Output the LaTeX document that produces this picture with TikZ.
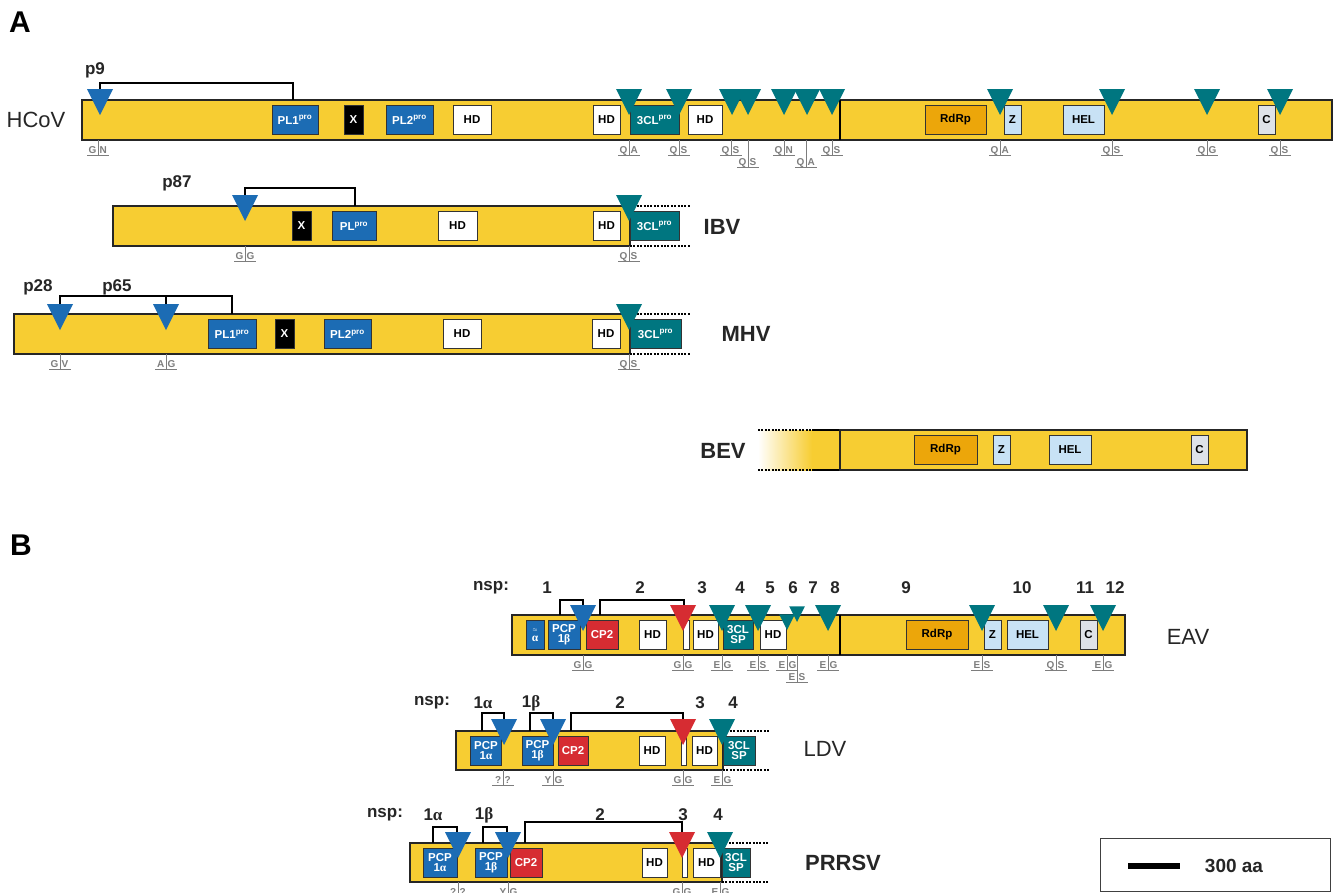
\documentclass[tikz,border=0pt]{standalone}
\usepackage{fontspec}
\setmainfont{Liberation Sans}
\newfontfamily\grk{Liberation Serif}
\usepackage{xcolor}
\usepackage{amsmath}

\definecolor{cyellow}{RGB}{247,205,50}
\definecolor{cblue}{RGB}{28,108,180}
\definecolor{cteal}{RGB}{0,118,128}
\definecolor{cred}{RGB}{214,44,50}
\definecolor{corange}{RGB}{236,166,10}
\definecolor{clblue}{RGB}{200,226,245}
\definecolor{cgrey}{RGB}{222,226,232}
\definecolor{csite}{RGB}{125,125,125}

% cleavage site: x, bar bottom, left, right, depth
\newcommand{\site}[5]{%
  \draw[siteline] (#1,#2) -- ++(0,#5+1);
  \draw[siteline] (#1-11,#2+#5) -- ++(22,0);
  \node[sitetxt, anchor=base east] (s#1-#2l) at (#1-1.5,#2+#5-1.5) {#3};
  \node[sitetxt, anchor=base west] (s#1-#2r) at (#1+1.5,#2+#5-1.5) {#4};
}

\begin{document}
\begin{tikzpicture}[x=1pt, y=-1pt,
    bar/.style={draw=black!85, line width=1.6pt, fill=cyellow},
    dom/.style={draw=black!80, line width=0.9pt, minimum height=29, inner sep=0pt,
      align=center, font=\bfseries\fontsize{11.5}{10}\selectfont},
    hd/.style={dom, fill=white},
    pl/.style={dom, fill=cblue, text=white},
    tcl/.style={dom, fill=cteal, text=white},
    cp/.style={dom, fill=cred, text=white},
    xdom/.style={dom, fill=black, text=white},
    rdrp/.style={dom, fill=corange},
    lb/.style={dom, fill=clblue},
    cdom/.style={dom, fill=cgrey},
    bracket/.style={line width=1.3pt},
    dots/.style={line width=1.6pt, dash pattern=on 2pt off 1.4pt},
    siteline/.style={csite, line width=0.7pt},
    sitetxt/.style={text=csite, inner sep=0pt, font=\bfseries\fontsize{10}{10}\selectfont},
    vlabel/.style={text=black!85, font=\fontsize{22}{22}\selectfont},
    vlabelb/.style={text=black!85, font=\bfseries\fontsize{22}{22}\selectfont},
    plabel/.style={text=black!85, font=\bfseries\fontsize{17}{17}\selectfont},
    panel/.style={font=\bfseries\fontsize{30}{30}\selectfont},
    cut/.pic={\path[pic actions] (-13,-26) -- (13,-26) -- (0,0) -- cycle;}]
  \useasboundingbox (0,0) rectangle (1336,892);
  % Panel letters
  \node[panel] (A) at (20,22) {A};
  \node[panel] (B) at (21,545) {B};

  % HCoV
  \node[vlabel] (hcov) at (36,120) {HCoV};
  \draw[bar] (82,100) rectangle (1332,140);
  \draw[line width=1.6pt] (840,100) -- (840,140);
  \node[pl, minimum width=46] (hpl1) at (295,120) {PL1\textsuperscript{pro}};
  \node[xdom, minimum width=19] (hx) at (353.5,120) {X};
  \node[pl, minimum width=47] (hpl2) at (409.5,120) {PL2\textsuperscript{pro}};
  \node[hd, minimum width=38] (hhd1) at (472,120) {HD};
  \node[hd, minimum width=27] (hhd2) at (606.5,120) {HD};
  \node[tcl, minimum width=49] (h3cl) at (654.5,120) {3CL\textsuperscript{pro}};
  \node[hd, minimum width=34] (hhd3) at (705,120) {HD};
  \node[rdrp, minimum width=61] (hrdrp) at (955.5,120) {RdRp};
  \node[lb, minimum width=17] (hz) at (1012.5,120) {Z};
  \node[lb, minimum width=41] (hhel) at (1083.5,120) {HEL};
  \node[cdom, minimum width=17] (hc) at (1266.5,120) {C};
  \node[plabel] (p9) at (95,70) {p9};
  \draw[bracket] (100,89) |- (293,83) -- (293,100);
  \pic[fill=cblue] at (100,115) {cut};
  \foreach \x in {629,679,732,748,784,807,832,1000,1112,1207,1280}
    \pic[fill=cteal] at (\x,115) {cut};
  \foreach \x/\l/\r/\d in {98/G/N/15, 629/Q/A/15, 679/Q/S/15, 731/Q/S/15, 748/Q/S/27,
      784/Q/N/15, 806/Q/A/27, 832/Q/S/15, 1000/Q/A/15, 1112/Q/S/15, 1207/Q/G/15, 1280/Q/S/15}
    \site{\x}{140}{\l}{\r}{\d};

  % IBV
  \node[vlabelb] (ibv) at (722,227) {IBV};
  \draw[bar] (113,206) rectangle (630,246);
  \draw[dots] (630,206) -- (690,206);
  \draw[dots] (630,246) -- (690,246);
  \node[xdom, minimum width=19] (ix) at (301.5,226) {X};
  \node[pl, minimum width=44] (ipl) at (354,226) {PL\textsuperscript{pro}};
  \node[hd, minimum width=39] (ihd1) at (457.5,226) {HD};
  \node[hd, minimum width=27] (ihd2) at (606.5,226) {HD};
  \node[tcl, minimum width=49] (i3cl) at (654.5,226) {3CL\textsuperscript{pro}};
  \node[plabel] (p87) at (177,183) {p87};
  \draw[bracket] (245,195) |- (355,188) -- (355,206);
  \pic[fill=cblue] at (245,221) {cut};
  \pic[fill=cteal] at (629,221) {cut};
  \site{245}{246}{G}{G}{15}
  \site{629}{246}{Q}{S}{15}

  % MHV
  \node[vlabelb] (mhv) at (746,334) {MHV};
  \draw[bar] (14,314) rectangle (630,354);
  \draw[dots] (630,314) -- (690,314);
  \draw[dots] (630,354) -- (690,354);
  \node[pl, minimum width=48] (mpl1) at (232,334) {PL1\textsuperscript{pro}};
  \node[xdom, minimum width=19] (mx) at (284.5,334) {X};
  \node[pl, minimum width=47] (mpl2) at (347.5,334) {PL2\textsuperscript{pro}};
  \node[hd, minimum width=38] (mhd1) at (462,334) {HD};
  \node[hd, minimum width=28] (mhd2) at (606,334) {HD};
  \node[tcl, minimum width=51] (m3cl) at (655.5,334) {3CL\textsuperscript{pro}};
  \node[plabel] (p28) at (38,287) {p28};
  \node[plabel] (p65) at (117,287) {p65};
  \draw[bracket] (60,304) |- (232,296) -- (232,314);
  \draw[bracket] (166,304) -- (166,296);
  \pic[fill=cblue] at (60,330) {cut};
  \pic[fill=cblue] at (166,330) {cut};
  \pic[fill=cteal] at (629,330) {cut};
  \site{60}{354}{G}{V}{15}
  \site{166}{354}{A}{G}{15}
  \site{629}{354}{Q}{S}{15}

  % BEV
  \node[vlabelb] (bev) at (723,451) {BEV};
  \shade[left color=white, right color=cyellow] (758,430) rectangle (812,470);
  \fill[cyellow] (812,430) rectangle (840,470);
  \draw[dots] (758,430) -- (812,430);
  \draw[dots] (758,470) -- (812,470);
  \draw[line width=1.6pt] (812,430) -- (840,430);
  \draw[line width=1.6pt] (812,470) -- (840,470);
  \draw[bar] (840,430) rectangle (1247,470);
  \node[rdrp, minimum width=63] (brdrp) at (945.5,450) {RdRp};
  \node[lb, minimum width=17] (bz) at (1001.5,450) {Z};
  \node[lb, minimum width=42] (bhel) at (1070,450) {HEL};
  \node[cdom, minimum width=17] (bc) at (1199.5,450) {C};

  % EAV
  \node[vlabel] (eav) at (1188,637) {EAV};
  \node[plabel] (ensp) at (491,588) {nsp:};
  \foreach \x/\n in {547/1, 640/2, 702/3, 740/4, 770/5, 793/6, 813/7, 835/8,
      906/9, 1022/10, 1085/11, 1115/12}
    \node[plabel] (e\n) at (\x,588) {\n};
  \draw[bar] (512,615) rectangle (1125,655);
  \draw[line width=1.6pt] (840,615) -- (840,655);
  \node[pl, minimum width=18] (ea) at (535,635) {{\tiny$\approx$}\\{\grk α}};
  \node[pl, minimum width=32] (epcp) at (564,635) {PCP\\1{\grk β}};
  \node[cp, minimum width=32] (ecp2) at (602,635) {CP2};
  \node[hd, minimum width=27] (ehd1) at (652.5,635) {HD};
  \node[hd, minimum width=6] (enar) at (686,635) {};
  \node[hd, minimum width=25] (ehd2) at (705.5,635) {HD};
  \node[tcl, minimum width=30] (e3cl) at (738,635) {3CL\\SP};
  \node[hd, minimum width=26] (ehd3) at (773,635) {HD};
  \node[rdrp, minimum width=62] (erdrp) at (937,635) {RdRp};
  \node[lb, minimum width=17] (ez) at (992.5,635) {Z};
  \node[lb, minimum width=41] (ehel) at (1027.5,635) {HEL};
  \node[cdom, minimum width=17] (ec) at (1088.5,635) {C};
  \draw[bracket] (560,615) |- (583,600) -- (583,605);
  \draw[bracket] (600,615) |- (684,600) -- (684,605);
  \pic[fill=cblue] at (583,631) {cut};
  \pic[fill=cred] at (683,631) {cut};
  \foreach \x in {722,758,828,982,1056,1103}
    \pic[fill=cteal] at (\x,631) {cut};
  \pic[fill=cteal, scale=0.6] at (787,630) {cut};
  \pic[fill=cteal, scale=0.6] at (797,622) {cut};
  \foreach \x/\l/\r/\d in {583/G/G/15, 683/G/G/15, 722/E/G/15, 758/E/S/15, 787/E/G/15,
      797/E/S/27, 828/E/G/15, 982/E/S/15, 1056/Q/S/15, 1103/E/G/15}
    \site{\x}{655}{\l}{\r}{\d};

  % LDV
  \node[vlabel] (ldv) at (825,749) {LDV};
  \node[plabel] (lnsp) at (432,703) {nsp:};
  \node[plabel] (l1a) at (483,703) {1{\grk α}};
  \node[plabel] (l1b) at (531,703) {1{\grk β}};
  \node[plabel] (l2) at (620,703) {2};
  \node[plabel] (l3) at (700,703) {3};
  \node[plabel] (l4) at (733,703) {4};
  \draw[bar] (456,731) rectangle (723,770);
  \draw[dots] (723,731) -- (770,731);
  \draw[dots] (723,770) -- (770,770);
  \node[pl, minimum width=31] (lpcpa) at (486,750.5) {PCP\\1{\grk α}};
  \node[pl, minimum width=31] (lpcpb) at (537.5,750.5) {PCP\\1{\grk β}};
  \node[cp, minimum width=30] (lcp2) at (573,750.5) {CP2};
  \node[hd, minimum width=26] (lhd1) at (652,750.5) {HD};
  \node[hd, minimum width=5] (lnar) at (684,750.5) {};
  \node[hd, minimum width=25] (lhd2) at (704.5,750.5) {HD};
  \node[tcl, minimum width=32] (l3cl) at (739,750.5) {3CL\\SP};
  \draw[bracket] (482,731) |- (504,713) -- (504,719);
  \draw[bracket] (530,731) |- (553,713) -- (553,719);
  \draw[bracket] (571,731) |- (683,713) -- (683,719);
  \pic[fill=cblue] at (504,745) {cut};
  \pic[fill=cblue] at (553,745) {cut};
  \pic[fill=cred] at (683,745) {cut};
  \pic[fill=cteal] at (722,745) {cut};
  \foreach \x/\l/\r in {503/?/?, 553/Y/G, 683/G/G, 722/E/G}
    \site{\x}{770}{\l}{\r}{15};

  % PRRSV
  \node[vlabelb] (prrsv) at (843,863) {PRRSV};
  \node[plabel] (pnsp) at (385,815) {nsp:};
  \node[plabel] (q1a) at (433,815) {1{\grk α}};
  \node[plabel] (q1b) at (484,815) {1{\grk β}};
  \node[plabel] (q2) at (600,815) {2};
  \node[plabel] (q3) at (683,815) {3};
  \node[plabel] (q4) at (718,815) {4};
  \draw[bar] (410,843) rectangle (722,882);
  \draw[dots] (722,843) -- (768,843);
  \draw[dots] (722,882) -- (768,882);
  \node[pl, minimum width=34] (qpcpa) at (440,862.5) {PCP\\1{\grk α}};
  \node[pl, minimum width=32] (qpcpb) at (491,862.5) {PCP\\1{\grk β}};
  \node[cp, minimum width=32] (qcp2) at (526,862.5) {CP2};
  \node[hd, minimum width=25] (qhd1) at (654.5,862.5) {HD};
  \node[hd, minimum width=5] (qnar) at (684.5,862.5) {};
  \node[hd, minimum width=27] (qhd2) at (706.5,862.5) {HD};
  \node[tcl, minimum width=28] (q3cl) at (736,862.5) {3CL\\SP};
  \draw[bracket] (433,843) |- (457,827) -- (457,832);
  \draw[bracket] (483,843) |- (507,827) -- (507,832);
  \draw[bracket] (525,843) |- (682,822) -- (682,832);
  \pic[fill=cblue] at (458,858) {cut};
  \pic[fill=cblue] at (508,858) {cut};
  \pic[fill=cred] at (682,858) {cut};
  \pic[fill=cteal] at (720,858) {cut};
  \foreach \x/\l/\r in {458/?/?, 508/Y/G, 682/G/G, 720/E/G}
    \site{\x}{882}{\l}{\r}{15};

  % scale bar
  \draw[line width=1pt, draw=black!75] (1100,838) rectangle (1330,891);
  \draw[line width=6pt] (1128,866) coordinate (sa) -- (1180,866) coordinate (sb);
  \node[font=\bfseries\fontsize{19}{19}\selectfont, text=black!85] (aa) at (1234,866) {300 aa};
\end{tikzpicture}
\end{document}
